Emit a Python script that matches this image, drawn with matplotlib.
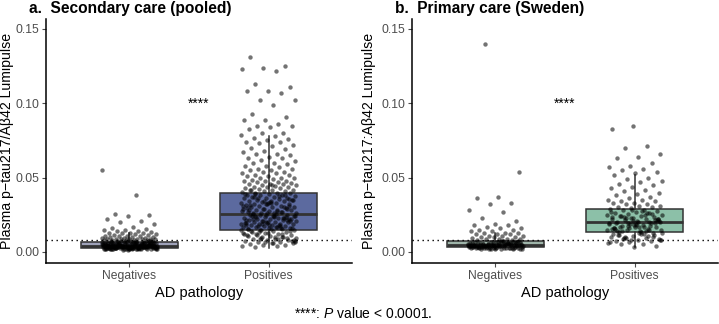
import numpy as np
import matplotlib
matplotlib.use("Agg")
import matplotlib.pyplot as plt

plt.rcParams['font.family'] = ['Liberation Sans', 'DejaVu Sans']
plt.rcParams['mathtext.fontset'] = 'custom'
plt.rcParams['mathtext.it'] = 'Liberation Sans:italic'
plt.rcParams['mathtext.rm'] = 'Liberation Sans'

# data (values in units of 1e-3)
groups = ["Negatives", "Positives"]
titles = ["a.  Secondary care (pooled)", "b.  Primary care (Sweden)"]
ylabels = ["Plasma p\u2212tau217/A\u03b242 Lumipulse", "Plasma p\u2212tau217:A\u03b242 Lumipulse"]
cutoff = 0.0081

a_neg = [55, 38, 25.5, 25, 24.5, 22, 21, 20.5, 19, 17, 16, 15.5, 15, 14.5, 14, 14, 13.5, 13, 13,
         12.5, 12.5, 12, 12, 11.5, 11.5, 11, 11, 10.5, 10.5, 10, 10, 10, 9.5, 9.5, 9.5, 9, 9, 9, 9,
         8.5, 8.5, 8.5, 8.5, 8, 8, 8, 8, 8,
         2.1, 3.4, 4.8, 5.6, 2.9, 6.7, 3.8, 4.2, 1.9, 5.1, 7.2, 3.0, 4.5, 2.6, 6.1, 3.7, 5.3, 2.3,
         4.0, 6.9, 3.2, 5.8, 2.7, 4.6, 1.8, 3.9, 5.0, 7.5, 2.4, 4.3, 6.3, 3.5, 2.0, 5.5, 4.1, 3.1,
         6.5, 2.8, 4.9, 3.6, 1.6, 5.2, 7.0, 2.5, 4.4, 3.3, 6.0, 2.2, 4.7, 5.9, 3.0, 1.7, 4.2, 6.6,
         3.8, 2.9, 5.4, 4.0, 7.3, 2.6, 3.5, 4.8, 2.1, 5.7, 3.2, 6.2, 4.5, 1.9, 3.9, 5.0, 2.7, 4.3,
         6.8, 3.4, 2.3, 5.3, 4.6, 3.0, 7.7, 2.0, 4.1, 5.6, 3.7, 2.8, 6.4, 4.9, 1.8, 3.3, 5.1, 2.5,
         4.4, 7.1, 3.6, 2.2, 5.8, 4.0, 3.1, 6.0, 2.9, 4.7, 1.5, 3.8, 5.2, 2.4, 4.2, 6.7, 3.5, 2.7,
         5.5, 4.8, 3.0, 7.4, 2.1, 4.5, 5.9, 3.3, 2.6, 6.3, 4.1, 1.9, 3.9, 5.0, 2.3, 4.6, 7.0, 3.4,
         2.8, 5.3, 4.3, 3.2, 6.5, 2.0, 4.9, 5.7, 3.6, 2.5, 6.1, 4.0, 3.1, 2.4, 4.4, 5.2, 3.7, 2.2,
         3.0, 4.6, 5.9, 2.7, 3.8, 6.2, 4.1, 2.3, 5.0, 3.4, 4.8, 6.9, 2.6, 3.9, 5.4, 4.3, 2.1, 7.2]

a_pos = [131, 125, 124, 123, 122, 113, 111, 108, 108, 107, 102, 102, 99, 93, 91, 89, 89, 86, 85,
         85, 84, 83, 80, 80, 79, 78, 77, 76, 75, 74, 74, 73, 72, 71, 70, 69, 68, 67, 66, 66, 65, 64,
         63, 63, 62, 61, 60, 60, 59, 58, 58, 57, 56, 56, 55, 55, 54, 54, 53, 53, 52, 52, 51, 51, 50,
         50, 49.5, 49, 48.5, 48, 48, 47.5, 47, 47, 46.5, 46, 46, 45.5, 45, 45, 44.5, 44, 44, 43.5,
         43, 43, 42.5, 42, 42, 41.5, 41, 41, 40.5, 40, 40, 39.5, 39, 38.5, 38, 38, 37.5, 37, 37,
         36.5, 36, 36, 35.5, 35, 35, 34.5, 34, 34, 33.5, 33, 33, 32.5, 32, 32, 31.5, 31, 31, 30.5,
         30, 30, 29.5, 29, 29, 28.5, 28, 28, 27.5, 27, 27, 26.5, 26, 26, 25.5, 25, 25, 39.2, 37.8,
         36.2, 34.7, 33.1, 31.8, 30.2, 28.9, 27.3, 25.8, 38.7, 35.7, 32.8, 29.7, 26.8, 24.8, 24.5,
         24.2, 24, 23.7, 23.4, 23.1, 22.8, 22.5, 22.2, 22, 21.7, 21.4, 21.1, 20.8, 20.5, 20.2, 20,
         19.7, 19.4, 19.1, 18.8, 18.5, 18.2, 18, 17.7, 17.4, 17.1, 16.8, 16.5, 16.2, 16, 15.7, 15.4,
         15.1, 24.3, 23.3, 22.3, 21.3, 20.3, 19.3, 18.3, 17.3, 16.3, 15.3, 24.6, 22.6, 20.6, 18.6,
         16.6, 23.9, 21.9, 19.9, 17.9, 15.9, 14.8, 14.5, 14.1, 13.8, 13.4, 13, 12.6, 12.2, 11.8,
         11.4, 11, 10.6, 10.2, 9.8, 9.4, 9, 8.6, 8.2, 7.8, 7.4, 7, 6.6, 6.2, 5.8, 5.4, 5, 4.6, 4.2,
         3.8, 3.2, 14.3, 12.9, 11.5, 10.1, 8.7, 7.3, 5.9, 13.6, 9.6, 6.4, 12.4, 8.9, 11.2, 7.6,
         33.6, 28.4, 22.9, 19.0, 14.6, 10.4, 36.8, 30.8, 26.3, 21.2, 17.6, 13.2, 8.0, 44.8, 41.8,
         38.3, 34.3, 31.2, 27.8, 23.6, 20.9, 18.1, 15.6, 12.0, 9.2, 6.9, 24.1, 26.1, 29.2, 32.2]

b_neg = [140, 54, 37, 36, 33, 32, 28, 27, 23, 21, 19, 18, 18, 17, 16, 16, 15, 15, 14, 14, 13, 13,
         13, 12, 12, 12, 11, 11, 11, 10, 10, 10, 9.5, 9, 9, 8.5, 8.5, 8.2, 8,
         2.3, 3.6, 5.1, 4.2, 6.4, 2.8, 3.9, 5.7, 4.6, 2.1, 7.1, 3.3, 4.9, 6.0, 2.5, 5.3, 3.8, 4.4,
         6.8, 2.9, 5.0, 3.1, 4.7, 7.4, 2.2, 5.9, 4.0, 3.5, 6.2, 2.7, 4.5, 5.5, 3.2, 1.9, 6.6, 4.1,
         3.7, 5.2, 2.6, 4.8, 7.0, 3.0, 5.6, 4.3, 2.0, 6.1, 3.4, 4.9, 5.8, 2.4, 3.9, 6.9, 4.6, 3.1,
         5.4, 2.8, 4.2, 7.6, 3.6, 5.0, 2.3, 4.7, 6.3, 3.3, 5.7, 4.0, 2.6, 6.5, 3.8, 4.4, 5.1, 2.9,
         7.2, 3.5, 4.8, 6.0, 2.1, 5.3, 4.1, 3.2, 6.7, 2.5, 4.5, 5.9, 3.7, 2.2, 4.3, 5.5,
         3.0, 4.6, 6.1, 2.7, 5.2, 3.9, 7.0, 4.2, 2.4, 5.6, 3.5, 6.4, 4.8, 2.9, 5.0, 3.3]

b_pos = [85, 83, 71, 70, 66, 64, 63, 60, 58, 57, 56, 55, 54, 53, 52, 50, 49, 48, 47, 46, 45, 44,
         43, 42, 41, 40, 39, 38, 37, 36, 35, 35, 34, 34, 33, 33, 32, 32, 31, 31, 30, 30,
         29.5, 29, 28.5, 28, 27.5, 27, 26.5, 26, 25.5, 25, 24.5, 24, 23.5, 23, 22.5, 22, 21.5, 21,
         20.5, 20, 19.5, 19, 18.5, 18, 17.5, 17, 16.5, 16, 15.5, 15, 14.5, 14, 13.5, 13,
         28.2, 26.7, 25.2, 23.7, 22.2, 20.7, 19.2, 17.7, 16.2, 14.7, 27.4, 24.4, 21.4, 18.4, 15.4,
         26.1, 23.1, 20.1, 17.1, 14.1, 25.8, 22.8, 19.8, 16.8, 13.8, 21.7, 18.9, 16.4, 15.1, 19.6,
         12.6, 12.1, 11.6, 11.1, 10.6, 10.1, 9.6, 9.1, 8.6, 8.1, 7.6, 7.1, 6.6, 6.1, 5.6, 5.1, 4.3,
         3.6, 12.3, 10.8, 9.3, 7.8, 12.8, 11.3, 9.8, 8.3, 6.8, 11.9, 8.8,
         22.4, 18.2, 15.8, 20.4, 17.3, 24.9, 13.3, 16.9, 19.4, 21.1, 23.4, 14.4, 10.4, 8.4]

# box summaries: q1, median, q3, whisker low, whisker high
box_a = [(2.9, 4.2, 6.9, 1.5, 12.5), (14.8, 25.3, 40.0, 2.7, 78.0)]
box_b = [(3.2, 4.6, 7.2, 1.9, 13.0), (13.2, 20.1, 29.0, 3.6, 52.0)]
fills_a = ["#9fa2b9", "#5c6a9f"]
fills_b = ["#9eb4a9", "#8cc0a8"]

points = [[a_neg, a_pos], [b_neg, b_pos]]
boxes = [box_a, box_b]
fills = [fills_a, fills_b]

fig = plt.figure(figsize=(7.19, 3.24), dpi=100)
W, H = 719.0, 324.0
axes_px = [(46, 352), (412, 718)]
ylab_px = [14.5, 376.5]
top_px, bot_px = 19, 263

for k in range(2):
    x0, x1 = axes_px[k]
    ax = fig.add_axes([x0 / W, 1 - bot_px / H, (x1 - x0) / W, (bot_px - top_px) / H])
    stats = []
    for q1, med, q3, lo, hi in boxes[k]:
        stats.append(dict(q1=q1 / 1000, med=med / 1000, q3=q3 / 1000,
                          whislo=lo / 1000, whishi=hi / 1000, fliers=[]))
    bp = ax.bxp(stats, positions=[1, 2], widths=0.7, patch_artist=True, showfliers=False,
                showcaps=False,
                boxprops=dict(edgecolor="#333333", linewidth=1.1),
                medianprops=dict(color="#333333", linewidth=2.0),
                whiskerprops=dict(color="#333333", linewidth=1.1))
    for patch, c in zip(bp["boxes"], fills[k]):
        patch.set_facecolor(c)

    for g in range(2):
        vals = np.array(points[k][g]) / 1000
        n = len(vals)
        # spread the points sideways like a jitter of width 0.2
        off = ((np.arange(n) * 0.6180339887 + 0.17 * g + 0.31 * k) % 1.0) * 0.4 - 0.2
        ax.scatter(g + 1 + off, vals, s=10, color="black", alpha=0.55, linewidths=0, zorder=3)

    ax.axhline(cutoff, color="black", linewidth=1.0, linestyle=(0, (1, 2.6)), zorder=4)
    ax.text(1.5, 0.10, "****", ha="center", va="center", fontsize=10)

    ax.set_xlim(0.4, 2.6)
    ax.set_ylim(-0.0074, 0.1567)
    ax.set_xticks([1, 2])
    ax.set_xticklabels(groups)
    ax.set_yticks([0.0, 0.05, 0.10, 0.15])
    ax.set_yticklabels(["0.00", "0.05", "0.10", "0.15"])
    ax.tick_params(labelsize=8.7, colors="#4d4d4d", length=3, width=0.8, pad=2)
    for s in ["top", "right"]:
        ax.spines[s].set_visible(False)
    for s in ["left", "bottom"]:
        ax.spines[s].set_linewidth(1.1)
        ax.spines[s].set_color("black")
    ax.set_xlabel("AD pathology", fontsize=10.5, labelpad=3)
    ax.set_ylabel(ylabels[k], fontsize=10.2)
    ax.yaxis.set_label_coords((ylab_px[k] - x0) / (x1 - x0), 0.5)

    fig.text((x0 - 17) / W, 1 - 9 / H, titles[k], fontsize=11.2, fontweight="bold",
             ha="left", va="center")

fig.text(363 / W, 1 - 314 / H, "****: $\\it{P}$ value < 0.0001.", fontsize=10,
         ha="center", va="center")

fig.savefig("out.png", dpi=100)
